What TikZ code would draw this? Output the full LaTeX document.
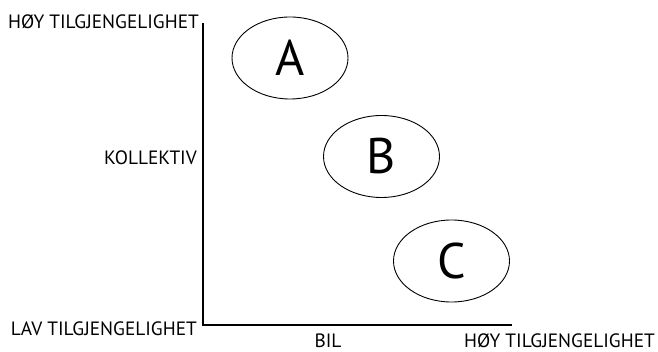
\documentclass[tikz,border=0pt]{standalone}
\usepackage{fontspec}
\setmainfont{PT Sans}
\usetikzlibrary{shapes.geometric}
\begin{document}
\begin{tikzpicture}[x=1pt,y=-1pt,
  axislabel/.style={font=\fontsize{19.3}{19.3}\selectfont, inner sep=0pt},
  zone/.style={draw, ellipse, line width=0.9pt, minimum width=116pt, minimum height=82pt, inner sep=0pt, font=\fontsize{50}{50}\selectfont}]
  \useasboundingbox (0,0) rectangle (658,352);
  % axes
  \coordinate (top) at (203,23);
  \coordinate (origin) at (203,325);
  \coordinate (right) at (512,325);
  \draw[line width=1.4pt] (top) -- (origin) -- (right);
  % axis labels
  \node[axislabel, anchor=east] (hoyy) at (199,22) {HØY TILGJENGELIGHET};
  \node[axislabel, anchor=east] (koll) at (197,158) {KOLLEKTIV};
  \node[axislabel, anchor=east] (lav) at (197,329) {LAV TILGJENGELIGHET};
  \node[axislabel] (bil) at (328,341) {BIL};
  \node[axislabel, anchor=east] (hoyx) at (655,341) {HØY TILGJENGELIGHET};
  % zones
  \node[zone] (A) at (290,58) {A};
  \node[zone] (B) at (381.5,156.5) {B};
  \node[zone] (C) at (451.5,261) {C};
\end{tikzpicture}
\end{document}
